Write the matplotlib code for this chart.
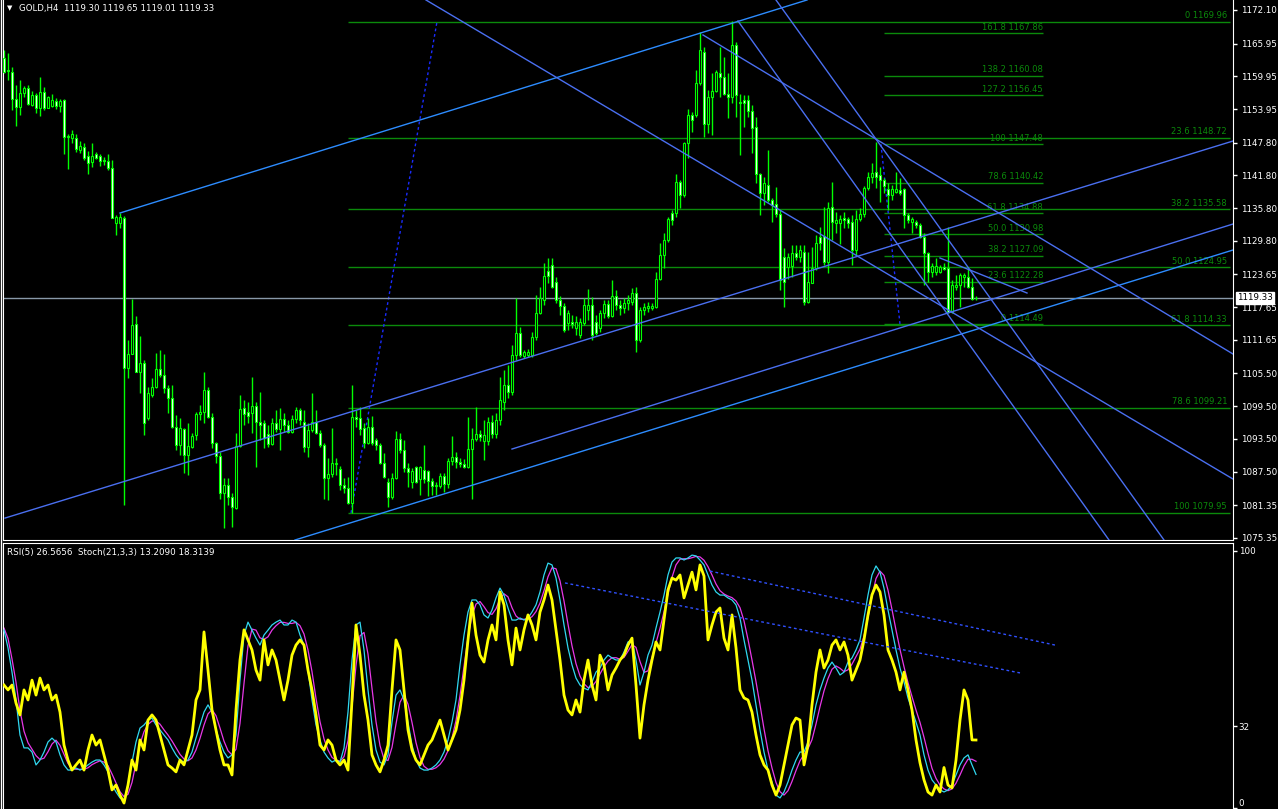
import matplotlib
matplotlib.use("Agg")
import matplotlib.pyplot as plt
from matplotlib.patches import Rectangle
from matplotlib.lines import Line2D
from matplotlib.transforms import blended_transform_factory

W, H = 1278, 809

# ---------------- data: GOLD H4 candles (bar 1 = leftmost) ----------------
opens = [
    1163.3, 1161.1, 1160.7, 1155.8, 1154.3, 1156.9, 1157.8, 1154.7, 1156.5, 1154.1,
    1157.1, 1154.1, 1154.5, 1155.4, 1154.5, 1155.6, 1149.0, 1148.6, 1148.6, 1146.4,
    1147.0, 1145.3, 1144.2, 1145.7, 1145.3, 1144.6, 1144.4, 1143.1, 1133.1, 1133.1,
    1134.0, 1106.5, 1109.1, 1114.6, 1105.8, 1107.4, 1097.3, 1101.5, 1103.0, 1106.3,
    1105.2, 1102.8, 1101.0, 1095.7, 1092.4, 1095.3, 1090.6, 1092.0, 1094.2, 1098.1,
    1098.4, 1102.5, 1097.5, 1092.7, 1090.4, 1083.6, 1085.1, 1082.9, 1080.8, 1092.2,
    1099.2, 1098.4, 1098.2, 1099.5, 1096.6, 1096.4, 1094.4, 1092.6, 1096.4, 1095.3,
    1097.2, 1096.0, 1094.8, 1097.2, 1098.8, 1096.6, 1092.0, 1095.1, 1096.6, 1094.6,
    1092.4, 1086.3, 1087.1, 1088.9, 1088.0, 1085.1, 1084.5, 1081.7, 1097.5, 1097.3,
    1095.5, 1092.7, 1095.7, 1093.3, 1092.4, 1089.1, 1085.6, 1082.9, 1086.3, 1093.5,
    1091.5, 1088.2, 1085.6, 1088.4, 1086.2, 1087.8, 1087.6, 1085.8, 1084.9, 1084.9,
    1086.7, 1085.2, 1089.5, 1090.2, 1089.3, 1088.9, 1088.4, 1091.6, 1093.5, 1094.4,
    1093.1, 1093.1, 1096.6, 1094.4, 1097.0, 1100.3, 1103.4, 1102.1, 1108.9, 1112.9,
    1108.7, 1108.9, 1108.9, 1112.2, 1116.6, 1119.0, 1124.3, 1125.4, 1122.3, 1119.0,
    1117.9, 1114.7, 1114.9, 1113.8, 1112.5, 1114.7, 1117.1, 1118.0, 1114.9, 1113.8,
    1116.6, 1118.2, 1116.0, 1119.7, 1118.0, 1117.5, 1118.4, 1118.6, 1120.2, 1111.6,
    1117.1, 1117.5, 1117.5, 1117.7, 1122.8, 1127.2, 1130.0, 1134.9, 1134.9, 1140.6,
    1138.2, 1147.7, 1152.9, 1152.9, 1158.7, 1164.4, 1151.2, 1156.2, 1157.3, 1160.6,
    1159.8, 1156.7, 1156.2, 1165.7, 1155.2, 1155.6, 1155.6, 1153.6, 1150.7, 1142.0,
    1138.6, 1140.0, 1137.3, 1136.5, 1134.7, 1126.8, 1125.0, 1125.2, 1127.6, 1126.8,
    1127.7, 1118.6, 1122.1, 1124.8, 1130.5, 1130.7, 1125.9, 1136.0, 1133.1, 1133.1,
    1134.0, 1133.8, 1133.2, 1128.1, 1133.8, 1134.7, 1139.5, 1141.5, 1142.4, 1141.9,
    1140.9, 1139.3, 1138.2, 1138.8, 1139.1, 1139.3, 1134.5, 1133.2, 1133.2, 1132.7,
    1130.5, 1127.6, 1124.1, 1124.1, 1124.1, 1125.0, 1124.8, 1116.8, 1121.3, 1121.7,
    1123.2, 1123.2, 1121.3, 1119.30,
]
highs = [
    1164.8, 1164.2, 1161.7, 1158.4, 1159.3, 1158.2, 1158.4, 1157.3, 1156.9, 1159.8,
    1158.0, 1156.4, 1156.7, 1156.0, 1155.8, 1155.8, 1149.4, 1150.1, 1149.4, 1148.1,
    1147.7, 1146.3, 1147.7, 1146.1, 1145.7, 1145.2, 1145.7, 1144.6, 1134.5, 1134.9,
    1134.3, 1111.6, 1119.1, 1116.0, 1112.4, 1108.0, 1103.0, 1104.7, 1109.2, 1109.8,
    1109.1, 1103.4, 1103.4, 1097.9, 1097.3, 1095.5, 1096.4, 1094.6, 1098.4, 1099.7,
    1105.8, 1103.0, 1098.2, 1093.0, 1091.1, 1086.3, 1086.3, 1083.6, 1094.6, 1101.5,
    1100.6, 1100.3, 1104.8, 1100.3, 1102.1, 1097.0, 1096.0, 1097.3, 1098.8, 1099.2,
    1098.2, 1097.0, 1097.9, 1099.4, 1099.2, 1098.8, 1096.4, 1101.9, 1098.8, 1095.1,
    1092.7, 1090.0, 1095.5, 1090.0, 1088.5, 1086.3, 1086.5, 1103.4, 1098.8, 1099.4,
    1096.4, 1097.3, 1097.7, 1093.7, 1092.7, 1090.9, 1086.3, 1087.3, 1094.9, 1094.6,
    1093.3, 1089.1, 1088.2, 1088.6, 1088.6, 1092.4, 1087.8, 1086.3, 1085.6, 1087.3,
    1087.3, 1090.0, 1094.0, 1091.1, 1090.0, 1089.8, 1097.5, 1095.5, 1099.4, 1095.1,
    1097.0, 1097.5, 1097.9, 1098.2, 1104.8, 1106.1, 1107.0, 1110.7, 1119.3, 1114.0,
    1109.8, 1110.0, 1113.1, 1119.9, 1121.3, 1125.7, 1126.6, 1126.6, 1123.2, 1119.7,
    1118.4, 1117.1, 1116.2, 1116.0, 1115.7, 1119.3, 1121.0, 1119.5, 1116.2, 1117.1,
    1119.0, 1119.0, 1122.6, 1120.8, 1119.0, 1119.3, 1119.9, 1121.2, 1121.3, 1117.7,
    1118.4, 1118.6, 1118.4, 1124.1, 1129.4, 1131.2, 1134.2, 1135.5, 1142.1, 1140.9,
    1147.9, 1153.9, 1153.4, 1161.1, 1168.1, 1165.3, 1157.4, 1160.6, 1161.1, 1165.3,
    1163.5, 1160.6, 1170.1, 1166.2, 1156.7, 1156.5, 1156.5, 1154.7, 1152.5, 1142.2,
    1141.5, 1146.4, 1137.6, 1139.7, 1135.5, 1128.5, 1127.6, 1129.0, 1129.0, 1129.0,
    1129.0, 1127.7, 1128.7, 1130.9, 1132.3, 1136.0, 1136.9, 1140.6, 1135.1, 1134.5,
    1135.1, 1134.2, 1134.5, 1135.5, 1135.8, 1139.8, 1142.4, 1144.1, 1147.9, 1143.3,
    1141.3, 1140.4, 1140.0, 1142.4, 1141.3, 1139.5, 1134.9, 1134.2, 1133.6, 1133.1,
    1131.2, 1127.8, 1125.7, 1126.6, 1125.4, 1125.7, 1132.3, 1122.6, 1123.5, 1123.9,
    1123.9, 1124.8, 1123.0, 1119.65,
]
lows = [
    1160.6, 1159.3, 1153.8, 1150.8, 1152.9, 1156.2, 1154.7, 1154.5, 1153.2, 1152.7,
    1153.8, 1154.1, 1154.3, 1153.9, 1153.4, 1145.7, 1143.0, 1147.7, 1146.1, 1145.9,
    1144.6, 1142.1, 1143.3, 1144.8, 1143.5, 1143.7, 1142.8, 1133.9, 1130.9, 1132.2,
    1081.4, 1104.7, 1109.0, 1105.8, 1101.9, 1094.2, 1097.0, 1101.2, 1102.8, 1104.8,
    1101.9, 1098.2, 1095.5, 1091.5, 1090.6, 1087.3, 1086.9, 1091.8, 1093.3, 1097.0,
    1096.4, 1097.3, 1091.8, 1089.1, 1082.5, 1077.2, 1081.4, 1077.4, 1080.7, 1092.0,
    1096.0, 1096.4, 1094.6, 1088.4, 1093.3, 1091.8, 1092.0, 1092.4, 1094.8, 1091.5,
    1094.8, 1094.6, 1094.6, 1096.4, 1096.0, 1091.1, 1090.2, 1094.8, 1094.4, 1092.0,
    1082.5, 1082.3, 1086.5, 1086.9, 1084.1, 1083.6, 1081.5, 1079.9, 1095.7, 1094.2,
    1091.8, 1092.5, 1092.4, 1091.5, 1088.9, 1086.3, 1081.0, 1082.5, 1086.2, 1090.9,
    1087.4, 1084.7, 1084.5, 1085.4, 1083.2, 1085.4, 1083.0, 1083.2, 1083.2, 1084.5,
    1083.8, 1084.5, 1088.7, 1088.2, 1088.4, 1088.2, 1088.2, 1082.5, 1093.2, 1093.1,
    1089.6, 1092.4, 1093.7, 1093.7, 1096.0, 1098.8, 1101.0, 1101.5, 1108.0, 1108.5,
    1108.3, 1108.5, 1108.5, 1111.6, 1116.4, 1118.0, 1122.1, 1121.2, 1118.4, 1116.2,
    1113.1, 1113.5, 1113.8, 1112.5, 1112.0, 1114.4, 1115.3, 1111.6, 1112.5, 1113.1,
    1115.7, 1115.7, 1115.8, 1117.1, 1116.2, 1116.6, 1117.1, 1118.0, 1109.4, 1111.3,
    1116.2, 1116.8, 1117.1, 1117.5, 1122.6, 1124.8, 1129.6, 1132.7, 1134.2, 1135.8,
    1137.8, 1145.0, 1149.7, 1152.5, 1158.4, 1148.8, 1149.6, 1149.2, 1157.1, 1156.2,
    1156.5, 1152.3, 1155.1, 1152.5, 1145.5, 1150.7, 1152.5, 1145.9, 1140.4, 1134.5,
    1136.4, 1136.9, 1133.3, 1134.2, 1120.8, 1117.7, 1122.8, 1123.2, 1126.3, 1125.9,
    1118.0, 1118.4, 1122.0, 1124.5, 1128.1, 1125.4, 1123.9, 1130.0, 1131.2, 1129.2,
    1132.1, 1132.1, 1125.4, 1127.2, 1133.5, 1134.2, 1139.1, 1140.4, 1139.5, 1136.9,
    1138.6, 1135.5, 1137.3, 1138.6, 1138.2, 1132.1, 1133.1, 1131.2, 1132.1, 1130.3,
    1121.7, 1122.3, 1123.2, 1123.5, 1123.9, 1124.4, 1116.6, 1116.5, 1120.8, 1117.7,
    1121.3, 1121.2, 1119.0, 1119.01,
]
closes = [
    1160.7, 1160.9, 1155.8, 1154.3, 1156.9, 1157.8, 1154.9, 1156.5, 1154.1, 1157.1,
    1154.1, 1156.2, 1155.6, 1154.5, 1155.4, 1148.8, 1148.8, 1149.4, 1146.6, 1147.2,
    1145.0, 1144.1, 1145.3, 1145.0, 1144.4, 1144.5, 1143.1, 1134.0, 1134.2, 1134.2,
    1106.5, 1109.1, 1114.4, 1105.8, 1107.4, 1096.4, 1101.9, 1103.0, 1106.3, 1105.2,
    1102.8, 1101.0, 1095.7, 1092.4, 1095.5, 1090.6, 1092.2, 1094.0, 1098.1, 1098.4,
    1102.5, 1097.5, 1092.7, 1090.4, 1083.6, 1085.1, 1082.9, 1081.0, 1092.2, 1099.0,
    1098.1, 1097.7, 1099.5, 1096.6, 1096.0, 1093.7, 1092.6, 1096.4, 1095.3, 1097.2,
    1096.0, 1094.8, 1097.2, 1098.8, 1097.0, 1092.0, 1095.1, 1096.6, 1094.6, 1092.4,
    1086.3, 1087.1, 1089.1, 1089.1, 1085.1, 1084.5, 1081.7, 1097.5, 1097.2, 1095.3,
    1092.7, 1095.7, 1092.7, 1092.4, 1089.1, 1086.5, 1082.9, 1086.3, 1093.5, 1091.5,
    1088.2, 1087.4, 1087.6, 1085.6, 1088.4, 1086.2, 1085.8, 1084.9, 1085.0, 1086.7,
    1085.2, 1089.5, 1090.2, 1089.3, 1088.9, 1088.4, 1091.6, 1093.5, 1094.4, 1093.9,
    1094.2, 1096.6, 1094.4, 1097.0, 1100.6, 1103.4, 1102.1, 1108.9, 1112.9, 1108.9,
    1109.4, 1109.4, 1112.2, 1116.6, 1119.3, 1123.4, 1123.4, 1121.3, 1119.0, 1117.9,
    1113.5, 1116.6, 1114.6, 1114.9, 1114.9, 1118.0, 1118.0, 1112.5, 1112.9, 1116.6,
    1118.2, 1116.0, 1119.7, 1118.0, 1117.5, 1118.4, 1119.0, 1120.2, 1111.6, 1117.1,
    1117.7, 1117.9, 1117.9, 1122.8, 1127.2, 1130.0, 1133.8, 1133.6, 1140.6, 1138.2,
    1147.7, 1152.9, 1151.9, 1158.7, 1164.8, 1151.2, 1156.2, 1157.3, 1160.7, 1159.8,
    1156.7, 1156.2, 1165.7, 1156.5, 1155.1, 1155.1, 1153.6, 1150.5, 1142.0, 1138.6,
    1140.4, 1137.3, 1136.4, 1134.7, 1122.6, 1122.3, 1126.8, 1127.6, 1126.8, 1128.1,
    1118.6, 1122.3, 1124.8, 1129.4, 1129.4, 1125.9, 1135.8, 1133.3, 1133.6, 1133.8,
    1133.6, 1133.1, 1128.1, 1133.8, 1134.7, 1139.5, 1141.5, 1142.2, 1141.5, 1140.9,
    1139.8, 1138.2, 1139.3, 1139.3, 1138.6, 1134.5, 1133.6, 1133.8, 1132.7, 1130.5,
    1127.6, 1124.1, 1125.2, 1125.2, 1125.0, 1124.6, 1116.8, 1121.7, 1121.7, 1123.5,
    1123.5, 1121.3, 1119.1, 1119.33,
]

# oscillators, one value per bar
rsi_values = [
    47.9, 46.0, 47.9, 40.9, 36.3, 46.0, 42.1, 49.8, 44.0, 50.6,
    46.0, 47.9, 42.1, 44.0, 37.4, 24.6, 18.8, 14.9, 16.9, 18.8,
    14.9, 22.7, 28.5, 24.6, 26.6, 20.8, 14.9, 7.2, 9.1, 5.2,
    2.1, 9.1, 18.8, 14.9, 26.6, 22.7, 34.3, 36.3, 34.3, 28.5,
    22.7, 16.9, 15.7, 14.2, 18.8, 16.9, 22.7, 28.5, 42.1, 46.0,
    68.5, 53.7, 38.2, 30.5, 22.7, 16.9, 16.9, 13.0, 38.2, 57.6,
    69.3, 65.4, 61.5, 53.7, 49.8, 65.4, 55.7, 61.5, 57.6, 49.8,
    42.1, 49.8, 59.5, 63.4, 65.4, 63.4, 53.7, 46.0, 36.3, 24.6,
    22.7, 26.6, 24.6, 18.8, 16.9, 18.8, 14.9, 42.1, 71.2, 59.5,
    44.0, 34.3, 20.8, 16.9, 14.2, 18.8, 24.6, 46.0, 65.4, 61.5,
    46.0, 30.5, 22.7, 18.8, 16.9, 20.8, 24.6, 26.6, 30.5, 34.3,
    28.5, 22.7, 26.6, 30.5, 38.2, 49.8, 65.4, 79.7, 67.3, 59.5,
    56.8, 65.4, 71.2, 65.4, 84.0, 79.0, 65.4, 55.7, 70.0, 61.5,
    69.3, 75.1, 71.2, 65.4, 76.2, 80.9, 86.7, 80.9, 69.3, 57.6,
    44.0, 38.2, 36.3, 42.1, 37.4, 49.8, 57.6, 47.9, 42.1, 59.5,
    55.7, 46.0, 51.8, 54.5, 57.6, 59.5, 63.4, 66.1, 47.9, 27.3,
    40.2, 49.8, 57.6, 64.6, 61.5, 73.1, 84.8, 89.4, 88.6, 90.6,
    81.7, 86.7, 91.7, 84.8, 94.5, 90.2, 65.4, 71.2, 76.2, 77.8,
    66.1, 61.5, 75.1, 62.3, 46.0, 42.9, 42.1, 37.4, 28.5, 20.8,
    16.9, 14.9, 9.1, 5.2, 9.1, 16.9, 24.6, 32.4, 35.1, 34.3,
    16.9, 24.6, 40.2, 52.9, 61.5, 54.5, 57.6, 63.4, 65.4, 61.5,
    64.6, 59.5, 49.8, 53.7, 57.6, 65.4, 75.1, 82.9, 86.7, 84.0,
    75.1, 61.5, 57.6, 52.9, 46.0, 52.9, 46.0, 38.2, 26.6, 17.7,
    11.1, 6.4, 5.2, 9.1, 6.4, 15.9, 9.1, 8.0, 18.8, 34.3,
    46.0, 42.1, 26.6, 26.57,
]
stoch_main = [
    69.2, 62.3, 52.9, 42.1, 28.5, 23.5, 23.5, 21.9, 16.9, 18.8,
    21.9, 25.8, 27.3, 25.8, 20.8, 16.9, 14.9, 14.9, 15.7, 14.9,
    15.7, 16.9, 18.0, 18.8, 18.8, 16.9, 14.2, 9.1, 6.4, 4.1,
    3.3, 9.1, 18.0, 25.8, 31.2, 32.4, 34.3, 35.1, 32.4, 30.5,
    28.5, 26.6, 23.5, 20.8, 18.8, 18.0, 18.8, 21.9, 27.3, 32.4,
    37.4, 40.2, 37.4, 30.5, 25.8, 21.9, 19.6, 20.8, 28.5, 49.8,
    67.3, 72.3, 69.2, 66.1, 63.4, 67.3, 69.2, 71.2, 72.3, 73.1,
    71.2, 71.2, 73.1, 72.3, 67.3, 63.4, 53.7, 42.1, 32.4, 26.6,
    21.9, 19.6, 18.0, 18.8, 18.0, 23.5, 37.4, 57.6, 71.2, 72.3,
    61.5, 46.0, 32.4, 22.7, 18.0, 16.9, 20.8, 33.5, 44.0, 46.0,
    42.1, 33.5, 24.6, 18.8, 15.7, 14.9, 14.9, 15.7, 16.9, 18.8,
    21.9, 26.6, 33.5, 42.1, 55.7, 67.3, 76.2, 80.9, 80.9, 79.0,
    75.1, 73.9, 77.0, 81.7, 85.5, 82.8, 77.8, 73.1, 73.1, 73.9,
    73.1, 73.9, 76.2, 79.0, 84.0, 90.6, 95.2, 94.5, 89.4, 80.9,
    71.2, 62.3, 55.7, 50.6, 47.9, 46.7, 46.0, 49.1, 52.9, 54.5,
    57.6, 59.5, 58.4, 57.6, 57.6, 60.7, 64.6, 65.4, 57.6, 47.9,
    52.9, 59.5, 63.4, 70.0, 76.2, 82.8, 90.6, 95.6, 97.2, 97.2,
    96.4, 97.2, 98.3, 98.0, 96.4, 94.5, 90.6, 86.7, 84.0, 82.8,
    82.8, 81.7, 80.9, 79.0, 73.9, 65.4, 57.6, 49.8, 40.2, 30.5,
    21.9, 14.9, 10.3, 5.2, 4.1, 6.4, 10.3, 14.9, 18.8, 21.9,
    21.9, 25.8, 32.4, 40.2, 46.0, 50.6, 54.5, 56.8, 54.5, 51.8,
    52.9, 56.8, 58.4, 61.5, 65.4, 73.9, 82.8, 90.6, 94.1, 91.7,
    85.5, 77.0, 69.2, 61.5, 54.5, 49.1, 42.9, 38.2, 33.5, 28.5,
    20.8, 14.9, 11.1, 9.1, 7.2, 6.4, 7.2, 9.1, 13.0, 16.9,
    19.6, 20.8, 16.9, 13.21,
]
stoch_signal = [
    70.0, 66.0, 58.0, 49.0, 38.0, 30.0, 25.5, 23.0, 20.5, 19.0,
    19.5, 22.0, 25.0, 26.5, 24.5, 21.0, 17.5, 15.5, 15.2, 15.2,
    15.2, 15.8, 17.0, 17.8, 18.5, 18.0, 16.6, 13.4, 10.0, 6.5,
    4.6, 5.5, 10.1, 17.6, 25.0, 29.8, 32.6, 33.9, 34.0, 32.7,
    30.5, 28.5, 26.2, 23.6, 21.0, 19.2, 18.5, 19.6, 22.7, 27.2,
    32.4, 36.7, 38.3, 36.0, 31.2, 26.1, 22.4, 20.8, 23.0, 33.0,
    48.5, 63.1, 69.6, 69.2, 66.2, 65.6, 66.6, 69.2, 70.9, 72.2,
    72.2, 71.8, 71.8, 72.2, 70.9, 67.7, 61.5, 53.1, 42.7, 33.7,
    27.0, 22.7, 19.8, 18.8, 18.3, 20.1, 26.3, 39.5, 55.4, 67.0,
    68.3, 59.9, 46.6, 33.7, 24.4, 19.2, 18.6, 23.7, 32.8, 41.2,
    44.0, 40.5, 33.4, 25.6, 19.7, 16.4, 15.2, 15.2, 15.8, 17.1,
    19.2, 22.4, 27.3, 34.1, 43.8, 55.0, 66.4, 74.8, 79.3, 80.3,
    78.3, 76.0, 75.3, 77.5, 81.4, 83.3, 82.1, 77.9, 74.7, 73.4,
    73.4, 73.6, 74.4, 76.4, 79.7, 84.5, 89.9, 93.4, 93.0, 88.3,
    80.5, 71.5, 63.1, 56.2, 51.4, 48.4, 46.9, 47.3, 49.3, 52.2,
    55.0, 57.2, 58.5, 58.5, 57.9, 58.6, 61.0, 63.6, 62.5, 57.0,
    52.8, 53.4, 58.6, 64.3, 69.9, 76.3, 83.2, 89.7, 94.5, 96.7,
    96.9, 96.9, 97.3, 97.8, 97.6, 96.3, 93.8, 90.6, 87.1, 84.5,
    83.2, 82.4, 81.8, 80.5, 77.9, 72.8, 65.6, 57.6, 49.2, 40.2,
    30.9, 22.4, 15.7, 10.1, 6.5, 5.2, 6.9, 10.5, 14.7, 18.5,
    20.9, 23.2, 26.7, 32.8, 39.5, 45.6, 50.4, 54.0, 55.3, 54.4,
    53.1, 53.8, 56.0, 58.9, 61.8, 66.9, 74.0, 82.4, 89.2, 92.1,
    90.4, 84.7, 77.2, 69.2, 61.7, 55.0, 48.8, 43.4, 38.2, 33.4,
    27.6, 21.4, 15.6, 11.7, 9.1, 7.6, 6.9, 7.6, 9.8, 13.0,
    16.5, 19.1, 19.1, 18.31,
]

price_ticks = [1172.10, 1165.95, 1159.95, 1153.95, 1147.80, 1141.80, 1135.80, 1129.80,
               1123.65, 1117.65, 1111.65, 1105.50, 1099.50, 1093.50, 1087.50, 1081.35, 1075.35]
last_price = 1119.33
header = "GOLD,H4  1119.30 1119.65 1119.01 1119.33"
osc_header = "RSI(5) 26.5656  Stoch(21,3,3) 13.2090 18.3139"
osc_ticks = [100, 32, 0]

# fibonacci retracements (level text, price), bar span, anchor points
fib1_levels = ["0", "23.6", "38.2", "50.0", "61.8", "78.6", "100"]
fib1_prices = [1169.96, 1148.72, 1135.58, 1124.95, 1114.33, 1099.21, 1079.95]
fib1_span = (87.0, 307.5)
fib1_anchor = [(87.75, 1079.95), (109.25, 1169.96)]

fib2_levels = ["0", "23.6", "38.2", "50.0", "61.8", "78.6", "100", "127.2", "138.2", "161.8"]
fib2_prices = [1114.49, 1122.28, 1127.09, 1130.98, 1134.88, 1140.42, 1147.48, 1156.45, 1160.08, 1167.86]
fib2_span = (221.0, 260.75)
fib2_anchor = [(220.25, 1147.48), (225.0, 1114.49)]

# trend lines on the price chart: (bar1, price1, bar2, price2, kind)
trend_lines = [
    (30.0, 1134.90, 201.75, 1173.93, "light"),
    (1.25, 1079.00, 308.25, 1148.09, "dark"),
    (73.75, 1074.98, 308.25, 1128.12, "light"),
    (128.0, 1091.65, 308.25, 1132.88, "dark"),
    (106.5, 1173.93, 308.25, 1086.15, "dark"),
    (175.75, 1167.52, 308.25, 1109.06, "dark"),
    (184.5, 1170.08, 277.25, 1074.98, "dark"),
    (194.0, 1173.93, 291.0, 1074.98, "dark"),
    (235.0, 1126.65, 256.75, 1120.24, "dark"),
]
# dotted trend lines on the oscillator: (bar1, value1, bar2, value2)
osc_lines = [
    (177.5, 92.1, 263.75, 63.4),
    (141.25, 87.5, 255.0, 52.6),
]

# ---------------- styles ----------------
BG = "black"
CANDLE = "#00ff00"
FIB = "#0b8a0b"
LIGHT = "#2d8cff"
DARK = "#4a6ff0"
plt.rcParams["font.family"] = ["DejaVu Sans"]

fig = plt.figure(figsize=(W / 100, H / 100), dpi=100)
fig.patch.set_facecolor(BG)

ax = fig.add_axes([3 / W, (H - 540) / H, 1230 / W, 540 / H])
ax.set_facecolor(BG)
ax.set_xlim(0.75, 308.25)
ax.set_ylim(1074.98, 1173.93)

n = len(closes)
idx = list(range(1, n + 1))

# fib levels
ax.hlines(fib1_prices, fib1_span[0], fib1_span[1], color=FIB, lw=1, zorder=1)
for lv, pr in zip(fib1_levels, fib1_prices):
    ax.annotate(f"{lv} {pr:.2f}", (306.75, pr), xytext=(0, 1), textcoords="offset points",
                ha="right", va="bottom", color=FIB, fontsize=6.0)
ax.hlines(fib2_prices, fib2_span[0], fib2_span[1], color=FIB, lw=1, zorder=1)
for lv, pr in zip(fib2_levels, fib2_prices):
    ax.annotate(f"{lv} {pr:.2f}", (fib2_span[1], pr), xytext=(0, 1), textcoords="offset points",
                ha="right", va="bottom", color=FIB, fontsize=6.0)
for anc in (fib1_anchor, fib2_anchor):
    ax.plot([anc[0][0], anc[1][0]], [anc[0][1], anc[1][1]], color="#1a2cff",
            lw=1, ls=(0, (2, 2)), zorder=1)

# current price line
ax.axhline(last_price, color="#8898a8", lw=1, zorder=1)

# candles
ax.vlines(idx, lows, highs, color=CANDLE, lw=1, zorder=2)
for i, o, c in zip(idx, opens, closes):
    fill = BG if c >= o else "white"
    ax.add_patch(Rectangle((i - 0.27, min(o, c)), 0.54, max(abs(c - o), 0.02),
                           facecolor=fill, edgecolor=CANDLE, lw=0.8, zorder=3))

# trend lines
for b1, p1, b2, p2, kind in trend_lines:
    ax.plot([b1, b2], [p1, p2], color=LIGHT if kind == "light" else DARK, lw=1, zorder=4)

# price axis
ax.yaxis.tick_right()
ax.set_yticks(price_ticks)
ax.set_yticklabels([f"{t:.2f}" for t in price_ticks])
ax.tick_params(axis="y", colors="white", labelsize=6.3, length=3, width=1, pad=3)
ax.set_xticks([])
for s in ("left", "right", "bottom"):
    ax.spines[s].set_color("white")
ax.spines["top"].set_visible(False)
tr = blended_transform_factory(ax.transAxes, ax.transData)
ax.text(1.003, last_price, f"{last_price:.2f}", transform=tr, ha="left", va="center",
        color="black", fontsize=6.3, zorder=10,
        bbox=dict(boxstyle="square,pad=0.12", fc="white", ec="white"))

# ---------------- oscillator panel ----------------
ax2 = fig.add_axes([3 / W, 0, 1230 / W, 266 / H])
ax2.set_facecolor(BG)
ax2.set_xlim(0.75, 308.25)
ax2.set_ylim(-0.2, 103.0)

ax2.plot(idx, stoch_signal, color="#e838e8", lw=0.9, zorder=2)
ax2.plot(idx, stoch_main, color="#30d8f0", lw=0.9, zorder=3)
ax2.plot(idx, rsi_values, color="#ffff00", lw=2.0, zorder=4)
for b1, v1, b2, v2 in osc_lines:
    ax2.plot([b1, b2], [v1, v2], color="#3050ff", lw=1, ls=(0, (2, 2)), zorder=5)

ax2.yaxis.tick_right()
ax2.set_yticks(osc_ticks)
ax2.set_yticklabels([str(t) for t in osc_ticks])
ax2.tick_params(axis="y", colors="white", labelsize=6.3, length=3, width=1, pad=1)
ax2.set_xticks([])
ax2.get_yticklabels()[-1].set_verticalalignment("bottom")
for s in ("left", "right", "top"):
    ax2.spines[s].set_color("white")
ax2.spines["bottom"].set_visible(False)

fig.text(7 / W, 1 - 553 / H, osc_header, color="white", fontsize=6.3, va="center")
fig.text(19 / W, 1 - 9 / H, header, color="white", fontsize=6.2, va="center")
fig.text(7 / W, 1 - 8 / H, "\u25bc", color="white", fontsize=5, va="center")
fig.add_artist(Line2D([0.5 / W, 0.5 / W], [0, 1], color="white", lw=1))

fig.savefig("out.png", dpi=100, facecolor=BG)
